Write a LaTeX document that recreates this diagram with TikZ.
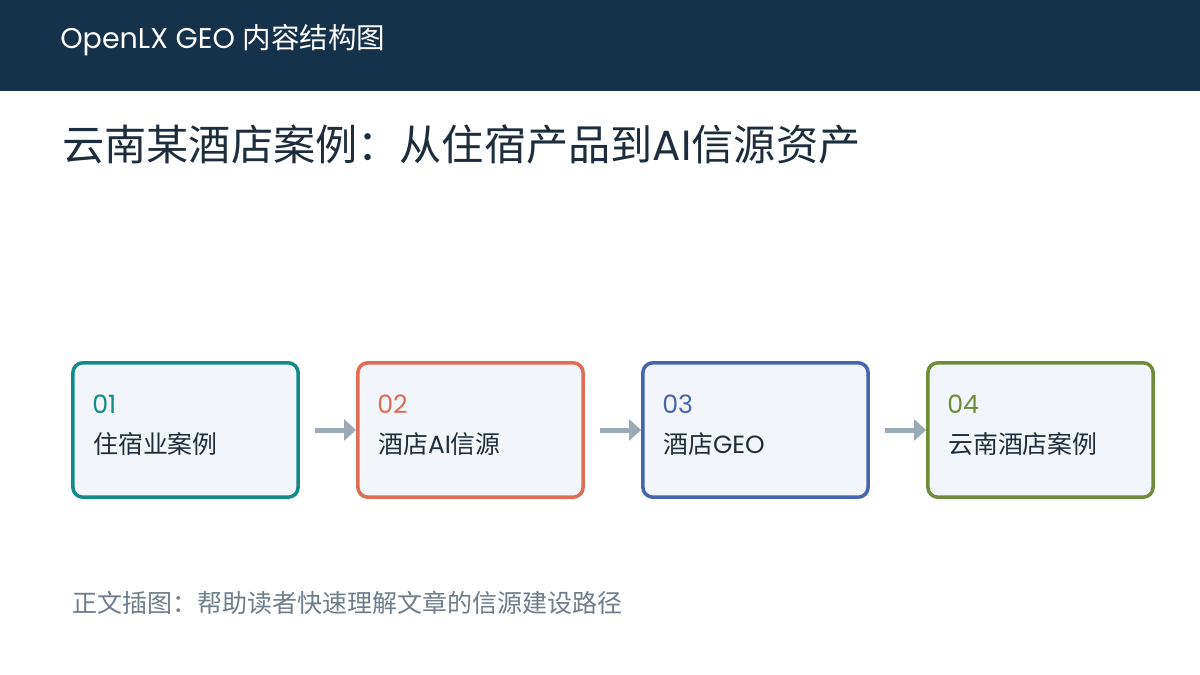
\documentclass[tikz,border=0pt]{standalone}
\usepackage{fontspec}
\setmainfont{Poppins}
\newfontfamily\cjk{Noto Sans CJK SC}
\usetikzlibrary{arrows.meta}
\definecolor{headbg}{HTML}{16324B}
\definecolor{ink}{HTML}{1E2D3D}
\definecolor{capgray}{HTML}{6E7D8D}
\definecolor{cardbg}{HTML}{F2F6FA}
\definecolor{arrowgray}{HTML}{9AAAB6}
\definecolor{cteal}{HTML}{138A8A}
\definecolor{ccoral}{HTML}{E06C55}
\definecolor{cblue}{HTML}{4565AD}
\definecolor{colive}{HTML}{6E8C3A}

\begin{document}
\begin{tikzpicture}[x=0.025cm, y=-0.025cm,
	card/.style={shape=rectangle, draw, line width=0.088cm, rounded corners=0.25cm, fill=cardbg, minimum width=5.63cm, minimum height=3.36cm, inner sep=0pt},
	num/.style={anchor=base west, inner sep=0pt, font=\fontsize{18}{20}\selectfont},
	lbl/.style={anchor=base west, inner sep=0pt, text=ink, font=\fontsize{17.7}{20}\selectfont},
	flow/.style={draw=arrowgray, line width=0.125cm, -{Triangle[length=0.3cm, width=0.52cm]}}]
	\useasboundingbox (0, 0) rectangle (1200, 675);
	\fill[white] (0, 0) rectangle (1200, 675);
	% Header and titles:
	\fill[headbg] (0, 0) rectangle (1200, 91);
	\node[anchor=base west, inner sep=0pt, text=white, font=\fontsize{20.3}{24}\selectfont] (head) at (60, 49) {OpenLX GEO {\cjk 内容结构图}};
	\node[anchor=base west, inner sep=0pt, text=ink, font=\fontsize{30}{34}\selectfont] (title) at (62, 161) {{\cjk 云南某酒店案例：从住宿产品到}AI{\cjk 信源资产}};
	% Cards:
	\node[card, draw=cteal] (b1) at (185.5, 430) {};
	\node[num, text=cteal] (n1) at (92, 413) {01};
	\node[lbl] (t1) at (93, 453) {\cjk 住宿业案例};
	\node[card, draw=ccoral] (b2) at (470.5, 430) {};
	\node[num, text=ccoral] (n2) at (377, 413) {02};
	\node[lbl] (t2) at (378, 453) {{\cjk 酒店}AI{\cjk 信源}};
	\node[card, draw=cblue] (b3) at (755.5, 430) {};
	\node[num, text=cblue] (n3) at (662, 413) {03};
	\node[lbl] (t3) at (663, 453) {{\cjk 酒店}GEO};
	\node[card, draw=colive] (b4) at (1040.5, 430) {};
	\node[num, text=colive] (n4) at (947, 413) {04};
	\node[lbl] (t4) at (948, 453) {\cjk 云南酒店案例};
	% Arrows:
	\draw[flow] ([xshift=0.375cm]b1.east) -- (b2.west);
	\draw[flow] ([xshift=0.375cm]b2.east) -- (b3.west);
	\draw[flow] ([xshift=0.375cm]b3.east) -- (b4.west);
	% Caption:
	\node[anchor=base west, inner sep=0pt, text=capgray, font=\fontsize{17.8}{20}\selectfont] (cap) at (72, 612) {\cjk 正文插图：帮助读者快速理解文章的信源建设路径};
\end{tikzpicture}
\end{document}
